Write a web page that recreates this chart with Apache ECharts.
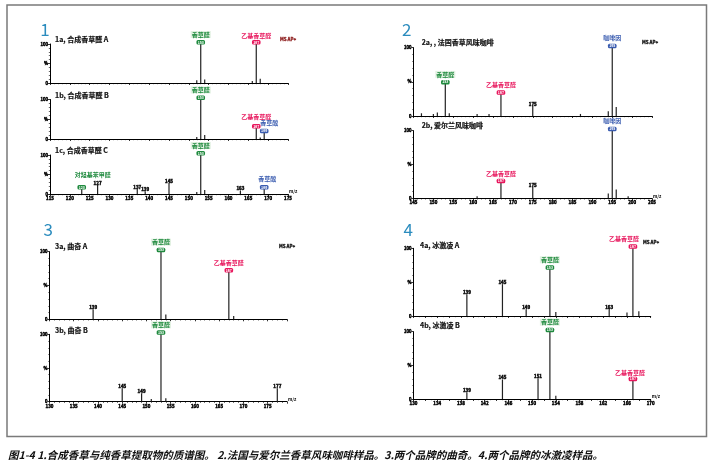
<!DOCTYPE html>
<html><head><meta charset="utf-8">
<script src="https://cdn.jsdelivr.net/npm/echarts@6.0.0/dist/echarts.min.js"></script>
<style>html,body{margin:0;padding:0;background:#fff}#c{width:712px;height:467px}</style>
</head><body><div id="c"></div>
<script>
// ---- data: [m/z, relative intensity %, labelled(1/0)] ----
const s1a = [[152,7,0],[153,100,1],[154,9,0],[166,5,0],[167,100,1],[168,11,0]];
const s1b = [[152,5,0],[153,100,1],[154,10,0],[167,28,1],[168,4,0],[169,16,1]];
const s1c = [[123,13,1],[127,24,1],[137,13,1],[139,7,1],[145,28,1],[152,5,0],[153,100,1],[154,10,0],[163,9,1],[169,13,1]];
const s2a = [[147,4,0],[150,3,0],[151,5,0],[153,47,1],[154,4,0],[161,3,0],[164,3,0],[167,32,1],[175,15,1],[187,3,0],[194,7,0],[195,100,1],[196,13,0]];
const s2b = [[161,3,0],[167,23,1],[175,17,1],[194,7,0],[195,100,1],[196,13,0],[199,3,0]];
const s3a = [[139,15,1],[153,100,1],[154,7,0],[167,70,1],[168,5,0]];
const s3b = [[145,20,1],[149,12.5,1],[151,4,0],[153,100,1],[154,5,0],[177,20,1]];
const s4a = [[139,32,1],[145,47,1],[149,10,1],[153,69,1],[154,6,0],[163,11,1],[166,5,0],[167,100,1],[168,7,0]];
const s4b = [[139,10,1],[145,29,1],[151,31,1],[153,100,1],[154,5,0],[167,27,1]];

const compoundMz    = [123, 153, 167, 169, 195];
const compoundNames = ['对羟基苯甲醛', '香草醛', '乙基香草醛', '香草酸', '咖啡因'];

const subplotTitles = ['1a, 合成香草醛 A','1b, 合成香草醛 B','1c, 合成香草醛 C',
  '2a, , 法国香草风味咖啡','2b, 爱尔兰风味咖啡','3a, 曲奇 A','3b, 曲奇 B','4a, 冰激凌 A','4b, 冰激凌 B'];
const panelNumbers = ['1','2','3','4'];
const xRanges = [[115,175],[145,205],[130,179],[130,170]];
const caption = '图1-4 1.合成香草与纯香草提取物的质谱图。 2.法国与爱尔兰香草风味咖啡样品。3.两个品牌的曲奇。4.两个品牌的冰激凌样品。';

// ---- styles / layout ----
const FONT = '"Noto Sans CJK SC", "Noto Sans", sans-serif';
const compoundColor = {123:'#1f8a3e',153:'#1f8a3e',167:'#e8175d',169:'#3a5cb0',195:'#3a5cb0'};
const compoundBg = {123:'rgba(0,0,0,0)',153:'#e2f1e2',167:'rgba(0,0,0,0)',169:'rgba(0,0,0,0)',195:'rgba(0,0,0,0)'};
const nameShift = {'2-123':[11,-5],'2-169':[3,-1],'1-167':[0,-2],'1-169':[5,0],'0-167':[0,1],'8-167':[-3,1],'7-167':[-9,0]};

const series = [s1a,s1b,s1c,s2a,s2b,s3a,s3b,s4a,s4b];
const panelOf = [0,0,0,1,1,2,2,3,3];
const showXLabels = [false,false,true,false,true,false,true,false,true];
const grids = [
  {left:50, top:44, width:238, height:39},
  {left:50, top:99.5, width:238, height:39.5},
  {left:50, top:155, width:238, height:39},
  {left:413.5, top:47.7, width:238.5, height:68.3},
  {left:413.5, top:130.7, width:238.5, height:67.6},
  {left:49.5, top:251.7, width:237.5, height:67.6},
  {left:49.5, top:334.3, width:237.5, height:67.4},
  {left:413.5, top:248.3, width:237.2, height:67.7},
  {left:413.5, top:331.7, width:237.2, height:67.3}
];

function makeRender(idx){
  return function(params, api){
    const mz = api.value(0), y = api.value(1), lab = api.value(2);
    const b = api.coord([mz, 0]), t = api.coord([mz, y]);
    const ch = [{type:'line', shape:{x1:b[0],y1:b[1],x2:t[0],y2:t[1]}, style:{stroke:'#222', lineWidth:1.2}}];
    if (lab) {
      const ci = compoundMz.indexOf(mz);
      if (ci >= 0) {
        const col = compoundColor[mz];
        ch.push({type:'text', x:t[0], y:t[1]+0.5, z2:5, style:{text:String(mz), font:'bold 3.5px '+FONT, fill:'#fff',
          backgroundColor:col, borderRadius:1.5, padding:[0.5,1.2], align:'center', verticalAlign:'bottom'}});
        const sh = nameShift[idx+'-'+mz] || [0,0];
        ch.push({type:'text', x:t[0]+sh[0], y:t[1]-9.5+sh[1], z2:5, style:{text:compoundNames[ci], font:'bold 6px '+FONT,
          fill:col, backgroundColor:compoundBg[mz], padding:[0.5,1], align:'center', verticalAlign:'middle'}});
      } else {
        ch.push({type:'text', x:t[0], y:t[1]+0.5, z2:5, style:{text:String(mz), font:'bold 4.5px '+FONT, fill:'#111',
          stroke:'#111', lineWidth:0.5, align:'center', verticalAlign:'bottom'}});
      }
    }
    return {type:'group', children:ch};
  };
}

const xAxes = [], yAxes = [], ser = [];
series.forEach((d, i) => {
  const p = panelOf[i], r = xRanges[p];
  const p4 = (p === 3);
  xAxes.push({type:'value', gridIndex:i, min:r[0], max:r[1], interval: p4 ? 2 : 5,
    axisLine:{show:true, onZero:false, lineStyle:{color:'#000', width:1}},
    axisTick:{show:true, length:2, lineStyle:{color:'#000', width:0.8}},
    minorTick:{show:true, splitNumber: p4 ? 2 : 5, length:1.2, lineStyle:{color:'#000', width:0.6}},
    splitLine:{show:false},
    name: showXLabels[i] ? 'm/z' : '', nameGap:1, nameTextStyle:{fontSize:4.5, fontWeight:'bold', fontFamily:FONT, color:'#000', verticalAlign:'bottom'},
    axisLabel:{show:showXLabels[i], fontSize:4.5, fontWeight:'bold', fontFamily:FONT, color:'#000', margin:2,
      textBorderColor:'#000', textBorderWidth:0.4,
      showMaxLabel: !(p===2), formatter: v => (p4 && (v-130)%4!==0) ? '' : String(v)}
  });
  yAxes.push({type:'value', gridIndex:i, min:0, max:100, interval:50,
    axisLine:{show:true, lineStyle:{color:'#000', width:1}},
    axisTick:{show:true, length:2, lineStyle:{color:'#000', width:0.8}},
    minorTick:{show:true, splitNumber:5, length:1.2, lineStyle:{color:'#000', width:0.6}},
    splitLine:{show:false},
    axisLabel:{fontSize:4.2, fontWeight:'bold', fontFamily:FONT, color:'#000', margin:2,
      textBorderColor:'#000', textBorderWidth:0.4,
      formatter: v => v===100?'100':(v===50?'%':(v===0?'0':''))}
  });
  ser.push({type:'custom', xAxisIndex:i, yAxisIndex:i, coordinateSystem:'cartesian2d', clip:false,
    renderItem: makeRender(i), data:d, silent:true, animation:false});
});

const titlePos = [[55,39],[55,95],[55,150],[421.7,42.7],[421.7,125.7],[55,246.7],[55,330],[420,245],[420,325]];
const panelPos = [[45,30],[406.7,30],[48.3,230],[408.3,230]];
const msPos = [[288,39,'#8b1a1a'],[650,42.7,'#111'],[287,246.7,'#111'],[651,242.7,'#111']];

const graphic = [{type:'rect', shape:{x:7,y:5,width:699.5,height:431.5}, style:{fill:'none', stroke:'#7a7a7a', lineWidth:1.5}, silent:true}];
subplotTitles.forEach((t,i)=>graphic.push({type:'text', x:titlePos[i][0], y:titlePos[i][1],
  style:{text:t, font:'bold 7px '+FONT, fill:'#111', stroke:'#111', lineWidth:0.2, align:'left', verticalAlign:'middle'}}));
panelNumbers.forEach((t,i)=>graphic.push({type:'text', x:panelPos[i][0], y:panelPos[i][1],
  style:{text:t, font:'17px '+FONT, fill:'#2b8cbe', align:'center', verticalAlign:'middle'}}));
msPos.forEach(m=>graphic.push({type:'text', x:m[0], y:m[1], style:{text:'MS AP+', font:'bold 4.5px '+FONT, fill:m[2], stroke:m[2], lineWidth:0.3, align:'center', verticalAlign:'middle'}}));
graphic.push({type:'text', x:8, y:455, style:{text:caption, font:'italic bold 10.5px '+FONT, fill:'#111', align:'left', verticalAlign:'middle'}});

const chart = echarts.init(document.getElementById('c'), null, {renderer:'canvas'});
chart.setOption({animation:false, backgroundColor:'#fff', grid:grids, xAxis:xAxes, yAxis:yAxes, series:ser, graphic:graphic});
</script></body></html>
